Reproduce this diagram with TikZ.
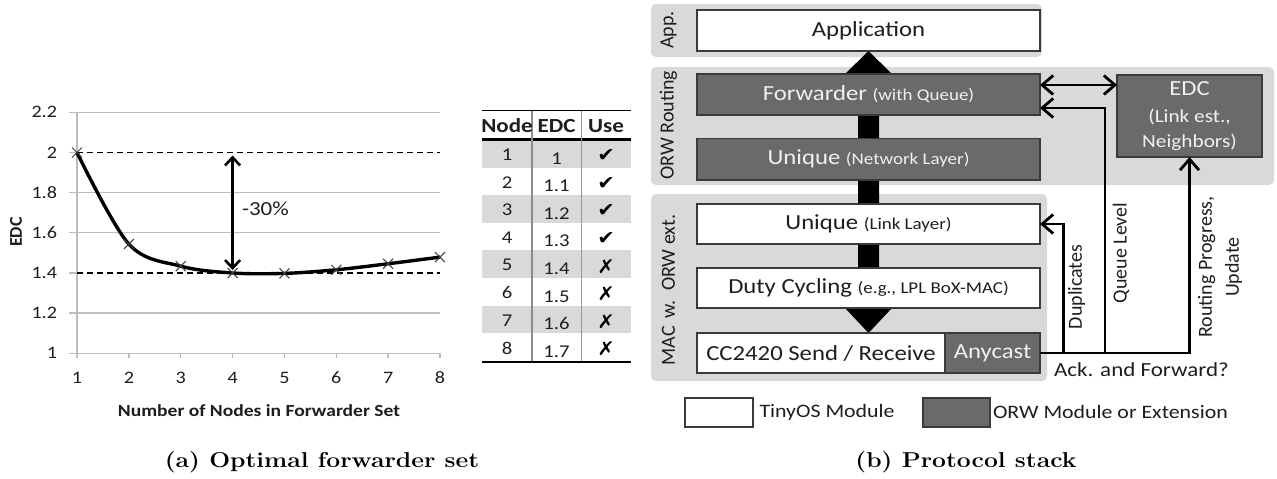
\documentclass[tikz,border=0pt]{standalone}
\usepackage{fontspec}
\usetikzlibrary{arrows.meta,calc}
\newfontfamily\cs[FakeStretch=1.15]{Carlito}
\newfontfamily\cn{Carlito}
\newfontfamily\dv[FakeStretch=1.1]{DejaVu Sans}
\newfontfamily\capf[FakeStretch=1.15]{Latin Modern Roman}
\newcommand\fsz[2]{\fontsize{#1}{#2}\selectfont}
\definecolor{panel}{HTML}{D9D9D9}
\definecolor{dark}{HTML}{6A6A6A}
\definecolor{edge}{HTML}{3A3A3A}
\definecolor{gridc}{HTML}{BDBDBD}
\definecolor{lighttxt}{HTML}{F0F0F0}
\definecolor{rowgray}{HTML}{D9D9D9}
\definecolor{txt}{HTML}{1E1E1E}
\begin{document}
\begin{tikzpicture}[x=1pt,y=-1pt,
  every node/.style={inner sep=0pt, outer sep=0pt, text=txt},
  tick/.style={font=\cs\fsz{17.5}{20}},
  cell/.style={font=\cs\fsz{18}{21}},
  hdr/.style={font=\cs\bfseries\fsz{20}{23}},
  usemark/.style={font=\dv\fsz{19}{22}, text=black},
  wbox/.style={draw=edge, line width=1.4pt, fill=white, minimum height=40pt, font=\cs\fsz{21.5}{25}},
  dbox/.style={draw=edge, line width=1.4pt, fill=dark, minimum height=40pt, font=\cs\fsz{21.5}{25}, text=lighttxt},
  side/.style={font=\cn\fsz{20}{24}, rotate=90},
  lbl/.style={font=\cs\fsz{20}{24}},
  tipb/.tip={Straight Barb[length=11pt,width=19pt,line width=2.8pt]},
  conn/.style={line width=2.8pt, draw=black, -tipb},
  capt/.style={font=\capf\bfseries\fsz{21.5}{25}, text=black, anchor=base}
]
\useasboundingbox (0,0) rectangle (1277,479);
\fill[white] (0,0) rectangle (1277,479);

% ---------------- chart ----------------
\begin{scope}[shift={(77,353.3)}, x=51.857pt, y=200.8pt]
  \foreach \v in {0.2,0.6,0.8,1.2}
    \draw[gridc, line width=1.3pt] (-0.154,\v) -- (7,\v);
  \draw[gridc, line width=1.3pt] (-0.154,1) -- (0,1);
  \draw[gridc, line width=1.3pt] (-0.154,0.4) -- (0,0.4);
  \draw[gridc, line width=1.3pt] (-0.154,0) -- (7,0);
  \draw[gridc, line width=1.3pt] (0,0) -- (0,1.2);
  \foreach \i in {0,...,7}
    \draw[gridc, line width=1.3pt] (\i,0) -- (\i,-0.022);
  \draw[black, line width=1.8pt, dash pattern=on 6pt off 4pt] (0,1) -- (7,1);
  \draw[black, line width=1.8pt, dash pattern=on 6pt off 4pt] (0,0.4) -- (7,0.4);
  \draw[black, line width=3.4pt, line join=round] plot[smooth, tension=0.55] coordinates
    {(0,1.0) (1,0.544) (2,0.434) (3,0.400) (4,0.398) (5,0.416) (6,0.446) (7,0.479)};
  \foreach \p/\q in {0/1.0,1/0.544,2/0.434,3/0.400,4/0.398,5/0.416,6/0.446,7/0.479}
    \draw[black!75, line width=1pt] ($(\p,\q)+(-5pt,-5pt)$) -- ($(\p,\q)+(5pt,5pt)$)
                                   ($(\p,\q)+(-5pt,5pt)$) -- ($(\p,\q)+(5pt,-5pt)$);
  \draw[black, line width=2.6pt, {Straight Barb[length=8pt,width=15pt,line width=2.6pt]}-{Straight Barb[length=8pt,width=15pt,line width=2.6pt]}] (3,0.985) -- (3,0.415);
\end{scope}
\node[lbl, anchor=west] (pct) at (242,209) {-30\%};
\foreach \v/\t in {112.3/2.2,152.5/2,192.7/1.8,232.8/1.6,273/1.4,313.2/1.2,353.3/1}
  \node[tick, anchor=east] (yl\t) at (57,\v) {\t};
\foreach \i/\x in {1/77,2/128.9,3/180.7,4/232.6,5/284.4,6/336.3,7/388.1,8/440}
  \node[tick] (xl\i) at (\x,378) {\i};
\node[font=\cn\bfseries\fsz{18}{21}, rotate=90] (ylab) at (16,232) {EDC};
\node[font=\cs\bfseries\fsz{17}{20}] (xlab) at (259,411) {Number of Nodes in Forwarder Set};

% ---------------- table ----------------
\foreach \i in {1,3,5,7}
  \fill[rowgray] ({482},{140+27.6*(\i-1)}) rectangle ({631},{140+27.6*\i});
\draw[black, line width=1.5pt] (482,110.7) -- (631,110.7);
\draw[black, line width=2.6pt] (482,139.5) -- (631,139.5);
\draw[black, line width=2pt] (482,361.7) -- (631,361.7);
\draw[black!45, line width=2.2pt] (531.7,111) -- (531.7,361);
\draw[black!40, line width=1.2pt] (581.7,111) -- (581.7,361);
\node[hdr] (hnode) at (507,126) {Node};
\node[hdr] (hedc) at (556.5,126) {EDC};
\node[hdr] (huse) at (606,126) {Use};
\foreach \i/\e/\u in {1/1/✔,2/1.1/✔,3/1.2/✔,4/1.3/✔,5/1.4/✗,6/1.5/✗,7/1.6/✗,8/1.7/✗}{
  \node[cell] (n\i) at ({507},{140+27.6*(\i-0.5)+1}) {\i};
  \node[cell] (e\i) at ({556.5},{140+27.6*(\i-0.5)+4.5}) {\e};
  \node[usemark] (u\i) at ({606},{140+27.6*(\i-0.5)+2}) {\u};
}

% ---------------- protocol stack ----------------
\fill[panel, rounded corners=5pt] (651,4) rectangle (1042,57);
\fill[panel, rounded corners=5pt] (651,67) rectangle (1274,185);
\fill[panel, rounded corners=5pt] (651,194) rectangle (1047,381);
\node[side] (sapp) at (668.5,30) {App.};
\node[side] (sorw) at (668.5,125) {ORW Routing};
\node[side] (smac) at (668.5,290) {MAC\, w.\, ORW ext.};

% big black arrow (behind boxes)
\fill[black] (845,74) -- (868.5,51) -- (892,74) -- (879,74) -- (879,308) -- (892,308)
  -- (868.5,333) -- (845,308) -- (858,308) -- (858,74) -- cycle;

\node[wbox, minimum width=343pt, minimum height=41pt] (app) at (868.5,30.5) {Application};
\node[dbox, minimum width=343pt, minimum height=41pt] (fwd) at (868.5,94.5) {Forwarder {\fsz{16.5}{20}(with Queue)}};
\node[dbox, minimum width=343pt, minimum height=41.5pt] (unet) at (868.5,159.25) {Unique {\fsz{16.5}{20}(Network Layer)}};
\node[wbox, minimum width=343pt] (ulink) at (868.5,224) {Unique {\fsz{16.5}{20}(Link Layer)}};
\node[wbox, minimum width=343pt] (duty) at (868.5,288) {Duty Cycling {\fsz{16.5}{20}(e.g., LPL BoX-MAC)}};
\node[wbox, minimum width=248pt] (cc) at (821,353) {CC2420 Send / Receive};
\node[dbox, minimum width=95pt] (any) at (992.5,353) {Anycast};
\node[dbox, minimum width=145pt, minimum height=82pt, align=center] (edc) at (1189.5,116)
  {{\fsz{21.5}{22}EDC}\\[2pt]{\fsz{18.5}{23}(Link est.,}\\{\fsz{18.5}{23}Neighbors)}};

% connectors
\coordinate (j1) at (1063.5,353);
\coordinate (j2) at (1105,353);
\draw[line width=2.8pt, tipb-tipb]
  ([yshift=9.5pt]fwd.east) -- ([yshift=9.5pt]fwd.east -| edc.west);
\draw[line width=2.8pt] (any.east) -- (j1) -- (j2);
\draw[conn] (j2) -- (edc.south |- j2) -- (edc.south);
\draw[conn] (j2) |- ([yshift=-13.5pt]fwd.east);
\draw[conn] (j1) |- (ulink.east);

\node[side] (ldup) at (1076.5,287) {Duplicates};
\node[side] (lq) at (1121,253) {Queue Level};
\node[side, align=center, font=\cn\fsz{20}{27}] (lrp) at (1220,267) {Routing Progress,\\Update};
\node[lbl, anchor=west] (lack) at (1054,370) {Ack. and Forward?};

% legend
\node[draw=edge, line width=1.4pt, fill=white, minimum width=68pt, minimum height=29pt] (legw) at (719,412.5) {};
\node[font=\cs\fsz{19}{22}, anchor=west] (legwt) at (759.5,412) {TinyOS Module};
\node[draw=edge, line width=1.4pt, fill=dark, minimum width=67pt, minimum height=29pt] (legd) at (956.5,412.5) {};
\node[font=\cs\fsz{19}{22}, anchor=west] (legdt) at (993,412) {ORW Module or Extension};

% captions
\node[capt] (capa) at (322,467) {(a) Optimal forwarder set};
\node[capt] (capb) at (966,467) {(b) Protocol stack};
\end{tikzpicture}
\end{document}
